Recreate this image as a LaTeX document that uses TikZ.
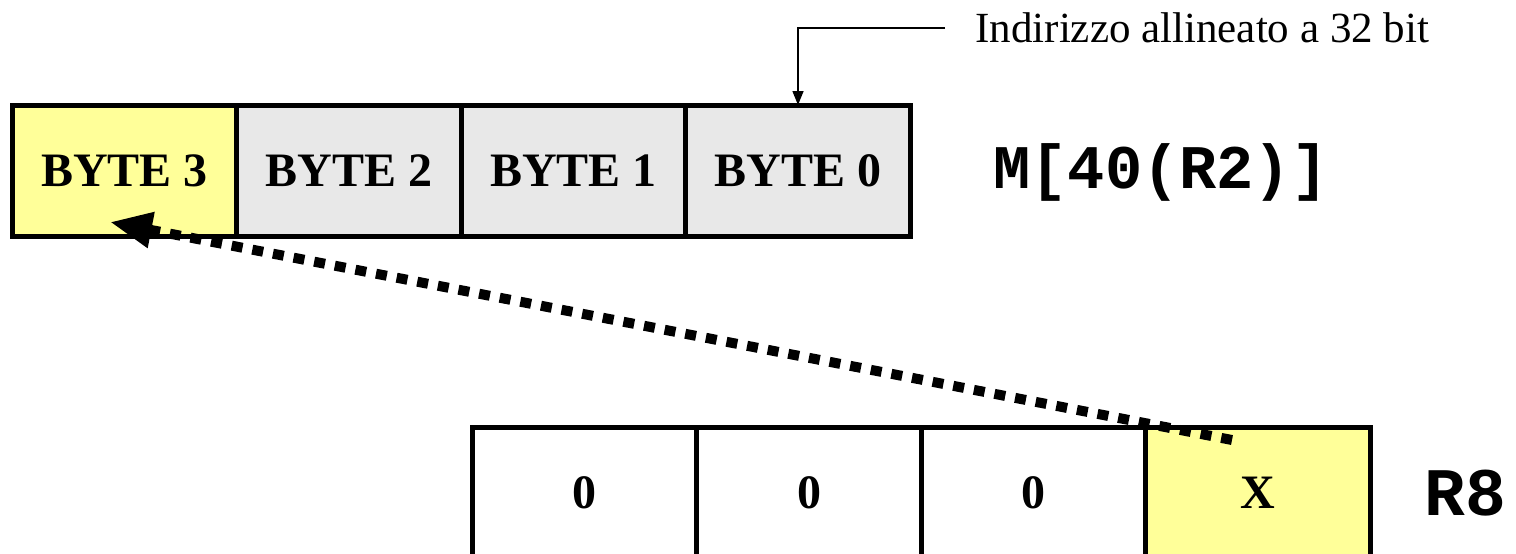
\documentclass[tikz,border=0pt]{standalone}
\usepackage{fontspec}
\setmainfont{Liberation Serif}
\setmonofont{Liberation Mono}
\usetikzlibrary{arrows.meta,calc}
\definecolor{byteyellow}{HTML}{FFFF99}
\definecolor{bytegray}{HTML}{E8E8E8}
\tikzset{
  cell/.style={draw=black, line width=2.5pt, minimum width=112.5pt, minimum height=65.5pt, outer sep=0pt, inner sep=0pt,
    font=\fontsize{24}{28}\selectfont\bfseries},
  graycell/.style={cell, fill=bytegray},
  yellowcell/.style={cell, fill=byteyellow},
  whitecell/.style={cell, fill=white},
  reglabel/.style={font=\fontsize{31}{36}\selectfont\ttfamily\bfseries, inner sep=0pt},
  annot/.style={font=\fontsize{21.5}{25}\selectfont, inner xsep=15pt, inner ysep=0pt, anchor=west},
  dotarrow/.style={line width=5pt, dash pattern=on 5.5pt off 5pt, -{Triangle[length=21pt,width=17pt]}},
  thinarrow/.style={line width=0.75pt, -{Triangle[length=7pt,width=5.5pt]}}
}
\begin{document}
\begin{tikzpicture}[x=0.5pt,y=-0.5pt]
\useasboundingbox (0,0) rectangle (1516,553);
% top row
\node[yellowcell] (b3) at (124.5,170.5) {BYTE 3};
\node[graycell] (b2) at (349,170.5) {BYTE 2};
\node[graycell] (b1) at (573.5,170.5) {BYTE 1};
\node[graycell] (b0) at (798,170.5) {BYTE 0};
\node[reglabel, anchor=west] (mem) at (993,172) {M[40(R2)]};
% bottom row
\node[whitecell] (r3) at (584.5,492.5) {0};
\node[whitecell] (r2) at (809,492.5) {0};
\node[whitecell] (r1) at (1033.5,492.5) {0};
\node[yellowcell] (r0) at (1258,492.5) {X};
\node[reglabel, anchor=west, font=\fontsize{34}{40}\selectfont\ttfamily\bfseries] (reg) at (1424,493) {R8};
% annotation
\node[annot] (lbl) at (945,28) {Indirizzo allineato a 32 bit};
\draw[thinarrow] (lbl.west) -| (b0.north);
% dotted arrow
\coordinate (dstart) at (1232,440);
\coordinate (dend) at (110,222);
\draw[dotarrow] (dstart) -- (dend);
\end{tikzpicture}
\end{document}
